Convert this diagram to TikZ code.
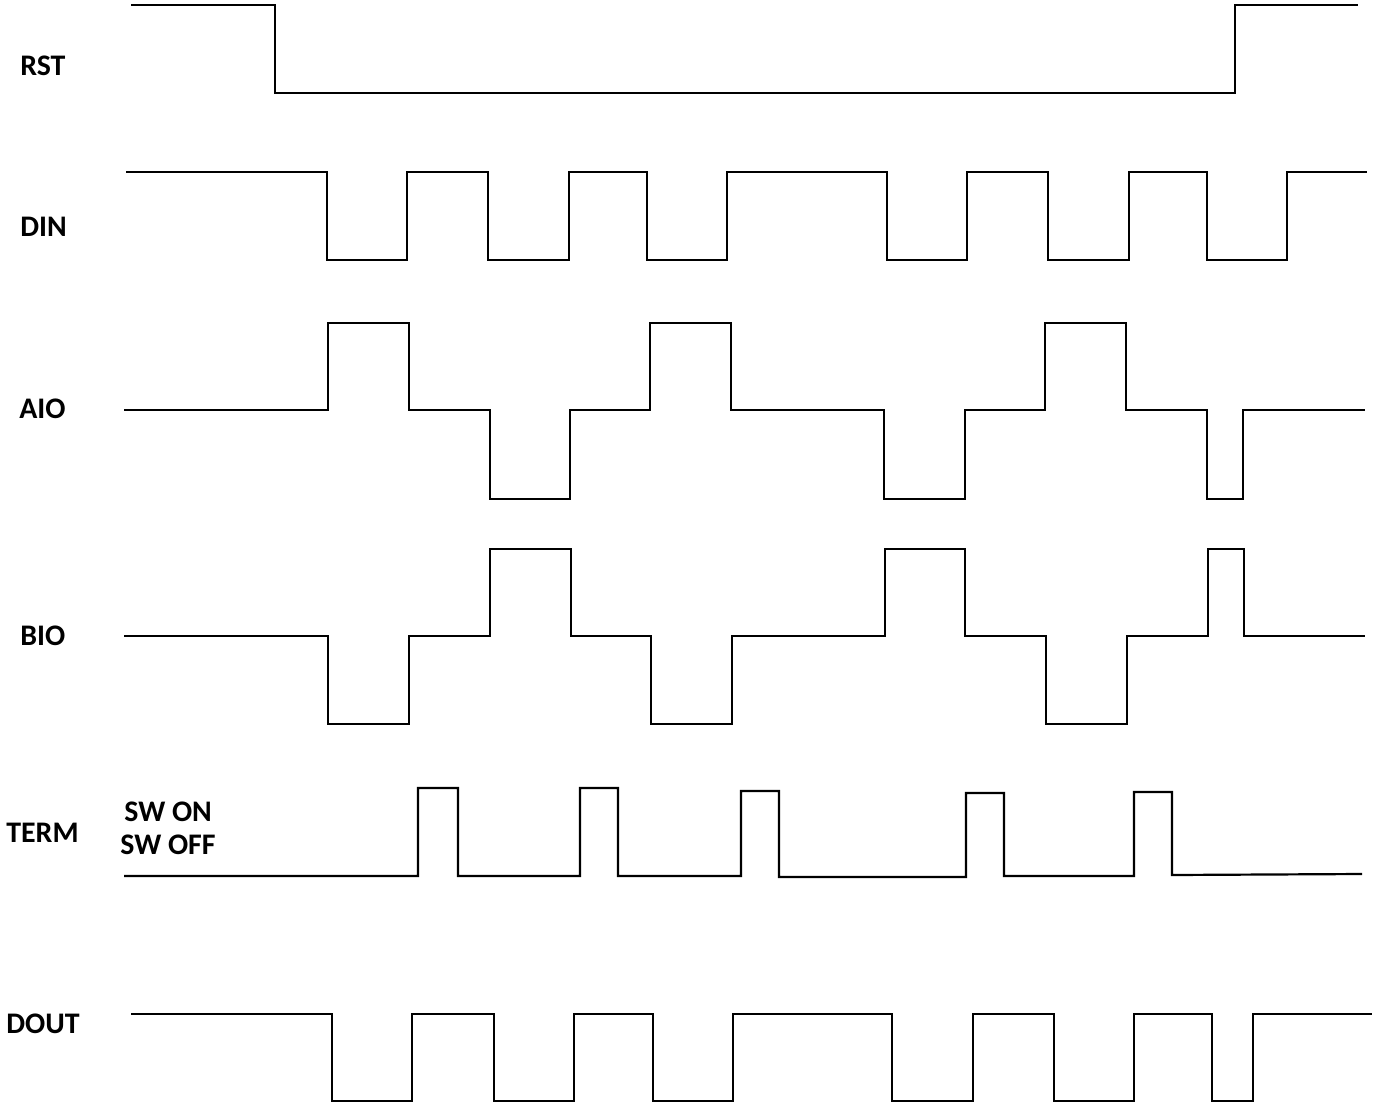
\documentclass[tikz,border=0pt]{standalone}
\usepackage{fontspec}
\setmainfont{Carlito}

\begin{document}
\begin{tikzpicture}[
  x=0.02cm, y=-0.02cm,
  every node/.style={font=\fontsize{17}{20}\selectfont\bfseries,inner sep=0pt},
  signame/.style={anchor=base west},
  wave/.style={line width=1.25pt,line join=miter}
]
\useasboundingbox (0,0) rectangle (1373,1106);
% RST
\node[signame] (rst) at (20,75) {RST};
\draw[wave] (131,5) -| (275,93) -| (1235,5) -- (1358,5);
% DIN
\node[signame] (din) at (20,236) {DIN};
\draw[wave] (126,172) -| (327,260) -| (407,172) -| (488,260) -| (569,172)
  -| (647,260) -| (727,172) -| (887,260) -| (967,172) -| (1048,260)
  -| (1129,172) -| (1207,260) -| (1287,172) -- (1367,172);
% AIO
\node[signame] (aio) at (19,418) {AIO};
\draw[wave] (124,410) -| (328,323) -| (409,410) -| (490,499) -| (570,410)
  -| (650,323) -| (731,410) -| (884,499) -| (965,410) -| (1045,323)
  -| (1126,410) -| (1207,499) -| (1243,410) -- (1365,410);
% BIO
\node[signame] (bio) at (20,645) {BIO};
\draw[wave] (124,636) -| (328,724) -| (409,636) -| (490,549) -| (571,636)
  -| (651,724) -| (732,636) -| (885,549) -| (965,636) -| (1046,724)
  -| (1127,636) -| (1208,549) -| (1244,636) -- (1365,636);
% TERM
\node[signame] (term) at (6,842) {TERM};
\node[signame] (swon) at (124,821) {SW ON};
\node[signame] (swoff) at (120,854) {SW OFF};
\draw[wave] (124,876) -| (418,788) -| (458,876) -| (580,788) -| (618,876)
  -| (741,791) -| (779,877) -| (966,793) -| (1004,876) -| (1134,792)
  -| (1172,875) -- (1362,874);
% DOUT
\node[signame] (dout) at (6,1033) {DOUT};
\draw[wave] (131,1014) -| (332,1101) -| (412,1014) -| (494,1101) -| (574,1014)
  -| (653,1101) -| (733,1014) -| (892,1101) -| (973,1014) -| (1054,1101)
  -| (1134,1014) -| (1212,1101) -| (1253,1014) -- (1372,1014);
\end{tikzpicture}
\end{document}
